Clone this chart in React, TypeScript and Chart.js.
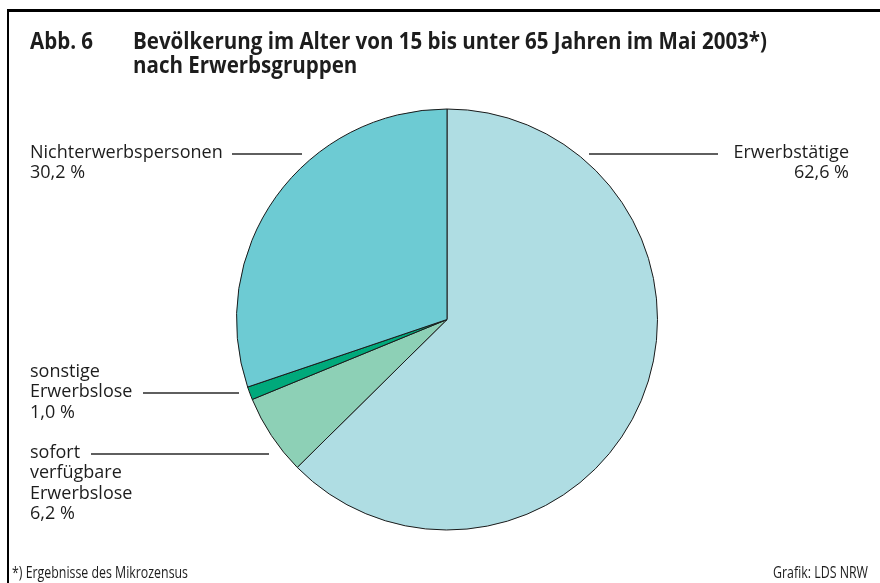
import React, { useEffect, useRef } from "react";
import { Chart, registerables } from "chart.js";

Chart.register(...registerables);

// ---- data ----
const categories = [
  "Erwerbstätige",
  "sofort verfügbare Erwerbslose",
  "sonstige Erwerbslose",
  "Nichterwerbspersonen",
];
const shares = [62.6, 6.2, 1.0, 30.2];
const sliceColors = ["#afdde3", "#8dd0b6", "#00a97b", "#6dcbd3"];
const labelLines = [
  ["Erwerbstätige"],
  ["sofort", "verfügbare", "Erwerbslose"],
  ["sonstige", "Erwerbslose"],
  ["Nichterwerbspersonen"],
];
const titleNumber = "Abb. 6";
const titleLines = [
  "Bevölkerung im Alter von 15 bis unter 65 Jahren im Mai 2003*)",
  "nach Erwerbsgruppen",
];
const footnote = "*) Ergebnisse des Mikrozensus";
const credit = "Grafik: LDS NRW";

const fmt = (v: number) => v.toFixed(1).replace(".", ",") + " %";

// ---- layout (positions of the annotation texts) ----
const labelLayout = [
  { x: 849, y: 158, align: "right", line: [589, 718, 154] },
  { x: 30, y: 458, align: "left", line: [91, 269, 454] },
  { x: 30, y: 377, align: "left", line: [143, 239, 393] },
  { x: 30, y: 158, align: "left", line: [232, 302, 154] },
];

const TEXT = "#1d1d1d";

function drawText(
  ctx: CanvasRenderingContext2D,
  text: string,
  x: number,
  y: number,
  font: string,
  align: CanvasTextAlign,
  sx = 1
) {
  ctx.save();
  ctx.font = font;
  ctx.fillStyle = TEXT;
  ctx.textBaseline = "alphabetic";
  ctx.textAlign = align;
  ctx.translate(x, y);
  ctx.scale(sx, 1);
  ctx.fillText(text, 0, 0);
  ctx.restore();
}

const annotations = {
  id: "annotations",
  afterDraw(chart: any) {
    const ctx: CanvasRenderingContext2D = chart.ctx;
    // frame
    ctx.save();
    ctx.fillStyle = "#000";
    ctx.fillRect(7, 9, 880 - 7, 3);
    ctx.fillRect(7, 9, 2, 583 - 9);
    ctx.restore();

    // title
    const tFont = 'bold 23.5px "Open Sans"';
    ctx.font = tFont;
    const tw = ctx.measureText(titleLines[0]).width;
    const tsx = 634 / tw;
    drawText(ctx, titleNumber, 30, 49, tFont, "left", tsx);
    drawText(ctx, titleLines[0], 133, 49, tFont, "left", tsx);
    drawText(ctx, titleLines[1], 133, 73, tFont, "left", tsx);

    // labels
    const lFont = '18px "Open Sans"';
    labelLayout.forEach((lay, i) => {
      const lines = [...labelLines[i], fmt(shares[i])];
      lines.forEach((t, k) => {
        drawText(ctx, t, lay.x, lay.y + k * 20.3, lFont, lay.align as CanvasTextAlign);
      });
      const [x1, x2, ly] = lay.line;
      ctx.save();
      ctx.strokeStyle = "#2a2a2a";
      ctx.lineWidth = 1.3;
      ctx.beginPath();
      ctx.moveTo(x1, ly);
      ctx.lineTo(x2, ly);
      ctx.stroke();
      ctx.restore();
    });

    // footer
    const fFont = '16px "Open Sans"';
    ctx.font = fFont;
    const fw = ctx.measureText(footnote).width;
    const fsx = 176 / fw;
    drawText(ctx, footnote, 12, 578, fFont, "left", fsx);
    drawText(ctx, credit, 868, 578, fFont, "right", fsx);
  },
};

export default function App() {
  const ref = useRef<HTMLCanvasElement>(null);
  useEffect(() => {
    document.body.style.margin = "0";
    const chart = new Chart(ref.current!, {
      type: "pie",
      data: {
        labels: categories,
        datasets: [
          {
            data: shares,
            backgroundColor: sliceColors,
            borderColor: "#1a1a1a",
            borderWidth: 1,
            hoverOffset: 0,
          },
        ],
      },
      options: {
        responsive: false,
        animation: false,
        devicePixelRatio: 1,
        layout: { padding: { left: 236, right: 222, top: 108, bottom: 52 } },
        plugins: {
          legend: { display: false },
          tooltip: { enabled: false },
        },
        events: [],
      },
      plugins: [annotations],
    });
    return () => chart.destroy();
  }, []);
  return (
    <div style={{ position: "absolute", left: 0, top: 0, width: 880, height: 583, background: "#fff" }}>
      <canvas ref={ref} width={880} height={583} />
    </div>
  );
}
